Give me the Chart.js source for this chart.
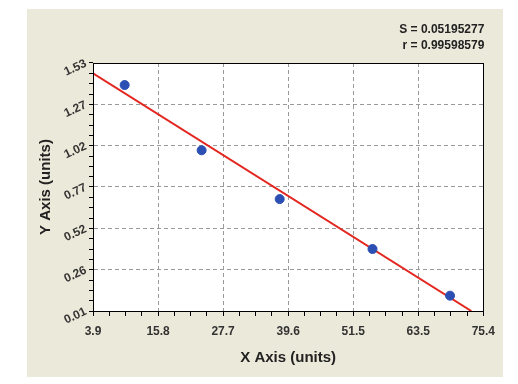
<!DOCTYPE html>
<html>
<head>
<meta charset="utf-8">
<script src="https://cdn.jsdelivr.net/npm/chart.js@4"></script>
<style>
  html, body { margin: 0; padding: 0; background: #ffffff; }
  #panel { position: absolute; left: 27px; top: 9px; width: 476px; height: 368px; background: #ebe9d9; }
</style>
</head>
<body>
<div id="panel"><canvas id="fitChart" width="476" height="368"></canvas></div>
<script>
// measured points
const xValues = [9.7, 23.8, 38.1, 55.1, 69.3];
const yValues = [1.395, 0.995, 0.696, 0.390, 0.104];
// regression line end points
const fitX = [3.9, 73.2];
const fitY = [1.466, 0.01];
// axis labels
const xTickLabels = ['3.9', '15.8', '27.7', '39.6', '51.5', '63.5', '75.4'];
const yTickLabels = ['0.01', '0.26', '0.52', '0.77', '1.02', '1.27', '1.53'];
const statLines = ['S = 0.05195277', 'r = 0.99598579'];

const xMin = 3.9, xMax = 75.4, yMin = 0.01, yMax = 1.53;
const SUB = 4; // minor intervals per major

function minorTicks(min, max, majors) {
    const n = (majors - 1) * SUB;
    const out = [];
    for (let i = 0; i <= n; i++) out.push({ value: min + (max - min) * i / n });
    return out;
}

const FONT = 'Liberation Sans, Arial, sans-serif';

const frame = {
    id: 'frame',
    beforeDraw(chart) {
        const { ctx, chartArea } = chart;
        ctx.save();
        ctx.fillStyle = '#ffffff';
        ctx.fillRect(chartArea.left, chartArea.top, chartArea.right - chartArea.left, chartArea.bottom - chartArea.top);
        ctx.restore();
    },
    afterDraw(chart) {
        const { ctx, chartArea } = chart;
        ctx.save();
        ctx.strokeStyle = '#000';
        ctx.lineWidth = 1;
        ctx.strokeRect(Math.round(chartArea.left) + 0.5, Math.round(chartArea.top) + 0.5,
            Math.round(chartArea.right - chartArea.left), Math.round(chartArea.bottom - chartArea.top));
        ctx.fillStyle = '#222';
        ctx.font = 'bold 12px ' + FONT;
        ctx.textAlign = 'right';
        ctx.textBaseline = 'middle';
        ctx.fillText(statLines[0], chartArea.right + 1, 21);
        ctx.fillText(statLines[1], chartArea.right + 1, 37);
        ctx.restore();
    }
};

function gridColor(c) {
    const i = c.index;
    return (i % SUB === 0 && i !== 0 && i !== (c.scale.ticks.length - 1)) ? '#9a9a9a' : 'rgba(0,0,0,0)';
}

const ctx = document.getElementById('fitChart').getContext('2d');
const fitChart = new Chart(ctx, {
    type: 'scatter',
    data: {
        datasets: [{
            type: 'line',
            data: fitX.map((x, i) => ({ x: x, y: fitY[i] })),
            borderColor: '#e3261f',
            borderWidth: 2,
            pointRadius: 0,
            fill: false,
            order: 2
        }, {
            data: xValues.map((x, i) => ({ x: x, y: yValues[i] })),
            backgroundColor: '#2c4fb3',
            borderColor: '#2c4fb3',
            pointRadius: 4.5,
            order: 1
        }]
    },
    options: {
        responsive: false,
        animation: false,
        layout: { padding: { top: 54, right: 16, left: 0, bottom: 0 } },
        scales: {
            x: {
                type: 'linear',
                min: xMin,
                max: xMax,
                afterBuildTicks: s => { s.ticks = minorTicks(xMin, xMax, xTickLabels.length); },
                afterFit: s => { s.height = 66; },
                ticks: {
                    autoSkip: false,
                    maxRotation: 0,
                    padding: 8,
                    color: '#333',
                    font: { family: FONT, size: 12, weight: 'bold' },
                    callback: (v, i) => i % SUB === 0 ? xTickLabels[i / SUB] : ''
                },
                grid: {
                    color: gridColor,
                    tickColor: '#000',
                    tickLength: 5,
                    tickBorderDash: []
                },
                border: { display: true, color: '#000', dash: [4, 3] },
                title: {
                    display: true,
                    text: 'X Axis (units)',
                    color: '#222',
                    font: { family: FONT, size: 15, weight: 'bold' },
                    padding: { top: 0, bottom: 10 }
                }
            },
            y: {
                type: 'linear',
                min: yMin,
                max: yMax,
                afterBuildTicks: s => { s.ticks = minorTicks(yMin, yMax, yTickLabels.length); },
                afterFit: s => { s.width = 66; },
                ticks: {
                    autoSkip: false,
                    minRotation: 25,
                    maxRotation: 25,
                    padding: 3,
                    color: '#333',
                    font: { family: FONT, size: 12, weight: 'bold' },
                    callback: (v, i) => i % SUB === 0 ? yTickLabels[i / SUB] : ''
                },
                grid: {
                    color: gridColor,
                    tickColor: '#000',
                    tickLength: 4,
                    tickBorderDash: []
                },
                border: { display: true, color: '#000', dash: [4, 3] },
                title: {
                    display: true,
                    text: 'Y Axis (units)',
                    color: '#222',
                    font: { family: FONT, size: 15, weight: 'bold' },
                    padding: { top: 10, bottom: 0 }
                }
            }
        },
        plugins: {
            legend: { display: false },
            tooltip: { enabled: false }
        }
    },
    plugins: [frame]
});
</script>
</body>
</html>
